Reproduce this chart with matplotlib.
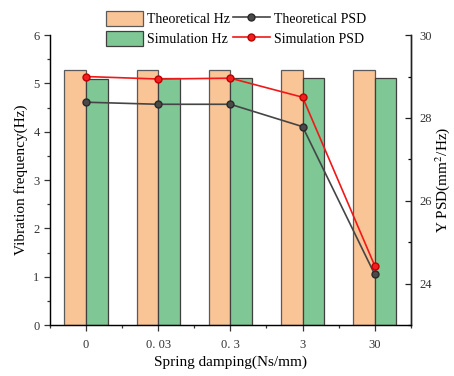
import numpy as np
import matplotlib
matplotlib.use("Agg")
import matplotlib.pyplot as plt
from matplotlib.ticker import MultipleLocator

plt.rcParams["font.family"] = ["Liberation Serif", "DejaVu Serif"]
plt.rcParams["mathtext.fontset"] = "stix"

dampings = ["0", "0. 03", "0. 3", "3", "30"]
theory_hz = [5.27, 5.27, 5.27, 5.27, 5.27]
sim_hz = [5.10, 5.11, 5.11, 5.11, 5.11]
theory_psd = [28.38, 28.33, 28.33, 27.79, 24.22]
sim_psd = [29.00, 28.94, 28.96, 28.50, 24.43]

x = np.arange(len(dampings))
w = 0.3

fig = plt.figure(figsize=(4.54, 3.76), dpi=100)
ax = fig.add_axes([0.110, 0.1356, 0.795, 0.771])

b1 = ax.bar(x - w / 2, theory_hz, w, color="#F9C496", edgecolor="#5a5a5a",
            linewidth=0.9, label="Theoretical Hz")
b2 = ax.bar(x + w / 2, sim_hz, w, color="#7FC794", edgecolor="#3f3f3f",
            linewidth=0.9, label="Simulation Hz")

ax.set_xlim(-0.5, 4.5)
ax.set_ylim(0, 6)
ax.set_xticks(x)
ax.set_xticklabels(dampings)
ax.xaxis.set_minor_locator(MultipleLocator(0.5))
ax.yaxis.set_major_locator(MultipleLocator(1))
ax.yaxis.set_minor_locator(MultipleLocator(0.5))
ax.tick_params(axis="both", labelsize=9, length=4, width=0.9, color="#333333",
               labelcolor="#333333")
ax.tick_params(which="minor", length=2.5, width=0.9, color="#333333")
ax.tick_params(axis="x", pad=6)
ax.set_xlabel("Spring damping(Ns/mm)", fontsize=11, labelpad=3)
ax.set_ylabel("Vibration frequency(Hz)", fontsize=11, labelpad=4)
ax.spines["top"].set_visible(False)
for s in ["left", "bottom", "right"]:
    ax.spines[s].set_linewidth(1.0)
    ax.spines[s].set_color("#222222")

ax2 = ax.twinx()
l1, = ax2.plot(x, theory_psd, color="#454545", linewidth=1.2, marker="o",
               markersize=5, markerfacecolor="#4a4a4a",
               markeredgecolor="#2a2a2a", label="Theoretical PSD")
l2, = ax2.plot(x, sim_psd, color="#F01818", linewidth=1.2, marker="o",
               markersize=5, markerfacecolor="#F02020",
               markeredgecolor="#c00000", label="Simulation PSD")
ax2.set_ylim(23, 30)
ax2.yaxis.set_major_locator(MultipleLocator(2))
ax2.yaxis.set_minor_locator(MultipleLocator(1))
ax2.tick_params(axis="y", direction="in", labelsize=9, length=4, width=0.9,
                color="#222222", labelcolor="#333333", pad=6)
ax2.tick_params(axis="y", which="minor", direction="in", length=2.5, width=0.9)
ax2.set_ylabel("Y PSD(mm$^2$/Hz)", fontsize=11, labelpad=1)
ax2.spines["top"].set_visible(False)
ax2.spines["right"].set_linewidth(1.0)
ax2.spines["right"].set_color("#222222")

fig.legend([b1, b2, l1, l2],
           ["Theoretical Hz", "Simulation Hz", "Theoretical PSD", "Simulation PSD"],
           ncol=2, loc="upper center", bbox_to_anchor=(0.52, 1.0),
           frameon=False, fontsize=10, handlelength=2.7, handleheight=1.3,
           handletextpad=0.3, columnspacing=0.15, labelspacing=0.35,
           borderpad=0.3)

fig.savefig("out.png", dpi=100)
